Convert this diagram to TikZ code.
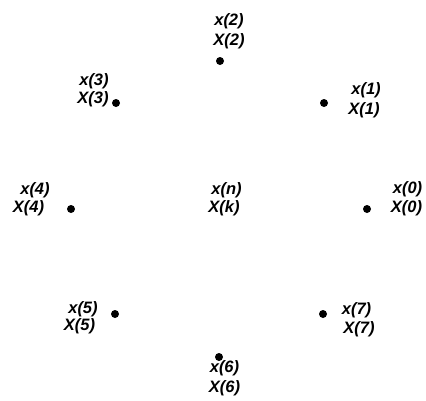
\documentclass[tikz,border=0pt]{standalone}
\usepackage{fontspec}
\setmainfont{Liberation Sans}
\begin{document}
\begin{tikzpicture}[x=1pt,y=-1pt,
  lbl/.style={inner sep=0pt,font=\fontsize{16.5}{19}\selectfont\bfseries\itshape},
  pt/.style={circle,fill=black,inner sep=0pt,minimum size=8pt}]
\useasboundingbox (0,0) rectangle (426,400);
% dots
\node[pt] (d0) at (367,209) {};
\node[pt] (d1) at (324,103) {};
\node[pt] (d2) at (220,61) {};
\node[pt] (d3) at (116,103) {};
\node[pt] (d4) at (71,209) {};
\node[pt] (d5) at (115,314) {};
\node[pt] (d6) at (219,357) {};
\node[pt] (d7) at (323,314) {};
% labels
\node[lbl] (a2) at (229,21.5) {x(2)};
\node[lbl] (b2) at (229,41.5) {X(2)};
\node[lbl] (a3) at (94,81.5) {x(3)};
\node[lbl] (b3) at (93,99.5) {X(3)};
\node[lbl] (a1) at (366,90.5) {x(1)};
\node[lbl] (b1) at (364,110.5) {X(1)};
\node[lbl] (a4) at (35,190.5) {x(4)};
\node[lbl] (b4) at (28.5,208.5) {X(4)};
\node[lbl] (an) at (226.5,190.5) {x(n)};
\node[lbl] (bk) at (224,208.5) {X(k)};
\node[lbl] (a0) at (407.5,189.5) {x(0)};
\node[lbl] (b0) at (406.5,208.5) {X(0)};
\node[lbl] (a5) at (83,309.5) {x(5)};
\node[lbl] (b5) at (79.5,326.5) {X(5)};
\node[lbl] (a7) at (356.5,310.5) {x(7)};
\node[lbl] (b7) at (359,329.5) {X(7)};
\node[lbl] (a6) at (224.5,368.5) {x(6)};
\node[lbl] (b6) at (224.5,388.5) {X(6)};
\end{tikzpicture}
\end{document}
